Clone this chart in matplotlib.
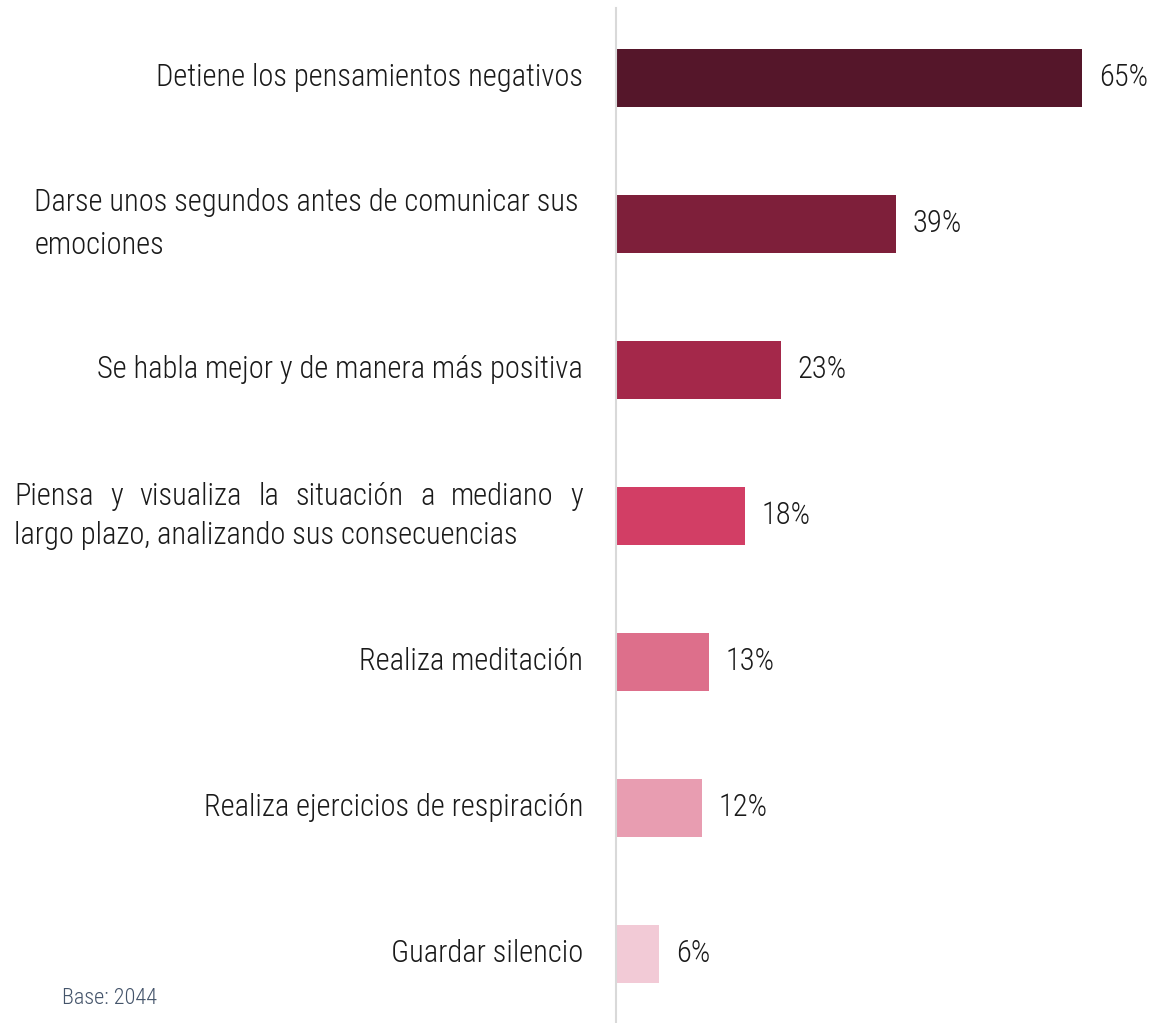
import matplotlib
matplotlib.use('Agg')
import matplotlib.pyplot as plt
from matplotlib import font_manager as fm

categories = [
    "Detiene los pensamientos negativos",
    "Darse unos segundos antes de comunicar sus\nemociones",
    "Se habla mejor y de manera más positiva",
    "Piensa y visualiza la situación a mediano y\nlargo plazo, analizando sus consecuencias",
    "Realiza meditación",
    "Realiza ejercicios de respiración",
    "Guardar silencio",
]
values = [65, 39, 23, 18, 13, 12, 6]
value_labels = ["65%", "39%", "23%", "18%", "13%", "12%", "6%"]
colors = ["#55162A", "#7E1F3A", "#A4284A", "#D23E65", "#DD6F8B", "#E89DB1", "#F2CAD6"]
base_note = "Base: 2044"

names = {f.name for f in fm.fontManager.ttflist}
family = "Roboto"
for cand in ["Roboto Condensed", "Liberation Sans Narrow", "Open Sans Condensed", "Roboto"]:
    if cand in names:
        family = cand
        break
plt.rcParams['font.family'] = [family, 'DejaVu Sans']
weight = 'light'

W, H = 1153, 1023
fig = plt.figure(figsize=(W / 100, H / 100), dpi=100)
x0 = 616
px_per_unit = 7.17
ax = fig.add_axes([x0 / W, 0, (W - x0) / W, (H - 8) / H])
n = len(values)
ypos = list(range(n))
ax.barh(ypos, values, height=0.4, color=colors)
ax.set_xlim(0, (W - x0) / px_per_unit)
ax.set_ylim(n - 1 + 0.473, -0.479)
for s in ['top', 'right', 'bottom']:
    ax.spines[s].set_visible(False)
ax.spines['left'].set_color('#D9D9D9')
ax.spines['left'].set_linewidth(1.5)
ax.set_xticks([])
ax.set_yticks([])

fs = 22 if family != "Roboto" else 18
txt_color = "#1A1A1A"
for y, v, lab in zip(ypos, values, value_labels):
    ax.annotate(lab, (v, y), xytext=(12, 0), textcoords='offset points',
                ha='left', va='center', fontsize=fs, color=txt_color, fontweight=weight)

renderer = fig.canvas.get_renderer()
right_px = 583


def measure(s):
    t = fig.text(0, 0, s, fontsize=fs, fontweight=weight)
    w = t.get_window_extent(renderer).width
    t.remove()
    return w


for y, cat in zip(ypos, categories):
    ydisp = ax.transData.transform((0, y))[1]
    lines = cat.split("\n")
    if cat.startswith("Piensa"):
        line_h = 39
        words = lines[0].split(" ")
        widths = [measure(w) for w in words]
        w1 = measure(lines[0])
        w2 = measure(lines[1])
        block_w = max(569, w1, w2)
        left = right_px - block_w
        gap = (block_w - sum(widths)) / (len(words) - 1)
        xx = left
        for w, wd in zip(words, widths):
            fig.text(xx / W, (ydisp + line_h / 2) / H, w, fontsize=fs, color=txt_color,
                     ha='left', va='center', fontweight=weight)
            xx += wd + gap
        fig.text(left / W, (ydisp - line_h / 2) / H, lines[1], fontsize=fs, color=txt_color,
                 ha='left', va='center', fontweight=weight)
    elif len(lines) == 2:
        line_h = 43
        w1 = measure(lines[0])
        left = right_px - w1 - 4
        fig.text(left / W, (ydisp + line_h / 2) / H, lines[0], fontsize=fs, color=txt_color,
                 ha='left', va='center', fontweight=weight)
        fig.text(left / W, (ydisp - line_h / 2) / H, lines[1], fontsize=fs, color=txt_color,
                 ha='left', va='center', fontweight=weight)
    else:
        fig.text(right_px / W, ydisp / H, cat, fontsize=fs, color=txt_color,
                 ha='right', va='center', fontweight=weight)

fig.text(62 / W, (H - 998) / H, base_note, fontsize=16, color="#44546A",
         ha='left', va='center', fontweight=weight)

fig.savefig("out.png", dpi=100)
